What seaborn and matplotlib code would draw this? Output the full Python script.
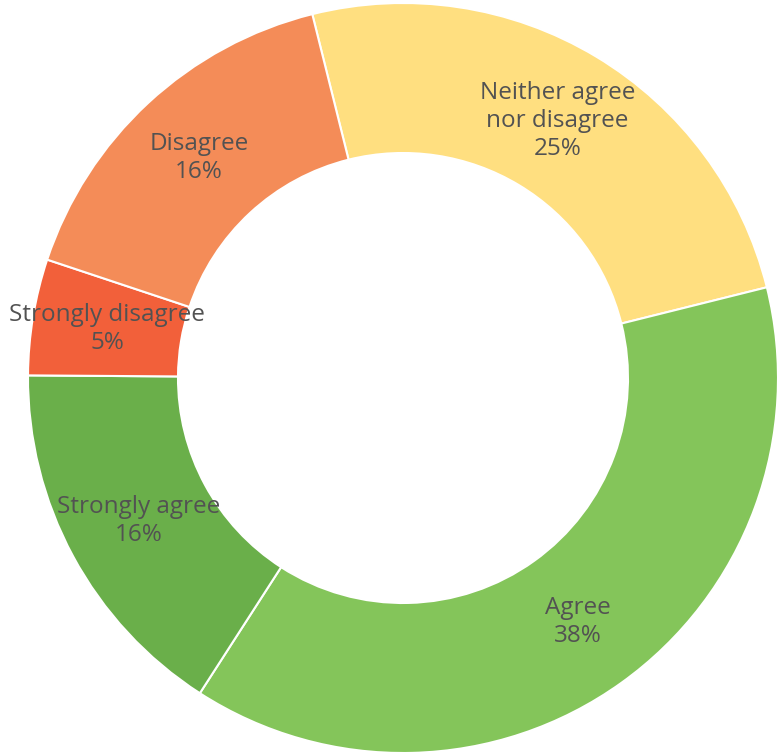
import matplotlib
matplotlib.use("Agg")
import matplotlib.pyplot as plt
import seaborn as sns
import numpy as np

sns.set_theme(style="white")
plt.rcParams["font.family"] = ["Open Sans", "DejaVu Sans"]

# Survey responses, in drawing order (clockwise from the top)
categories = ["Neither agree\nnor disagree", "Agree", "Strongly agree",
              "Strongly disagree", "Disagree"]
shares = [25, 38, 16, 5, 16]
colors = ["#FFDF80", "#84C55A", "#6AAF4A", "#F2603A", "#F48C58"]

fig = plt.figure(figsize=(7.8, 7.56), dpi=100)
ax = fig.add_axes([28 / 780, 3 / 756, 750 / 780, 750 / 756])

wedges, _ = ax.pie(
    shares,
    colors=colors,
    startangle=104,
    counterclock=False,
    radius=1.0,
    wedgeprops=dict(width=0.4, edgecolor="white", linewidth=1.5),
)

# Labels sit in the middle of the ring
total = sum(shares)
angle = 104.0
for label, value in zip(categories, shares):
    span = 360.0 * value / total
    mid = np.deg2rad(angle - span / 2)
    r = 0.8
    ax.text(r * np.cos(mid), r * np.sin(mid), f"{label}\n{value}%",
            ha="center", va="center", fontsize=17.5, color="#525252",
            linespacing=1.22)
    angle -= span

ax.set_xlim(-1, 1)
ax.set_ylim(-1, 1)
ax.set_aspect("equal")
ax.axis("off")

fig.savefig("out.png", dpi=100)
